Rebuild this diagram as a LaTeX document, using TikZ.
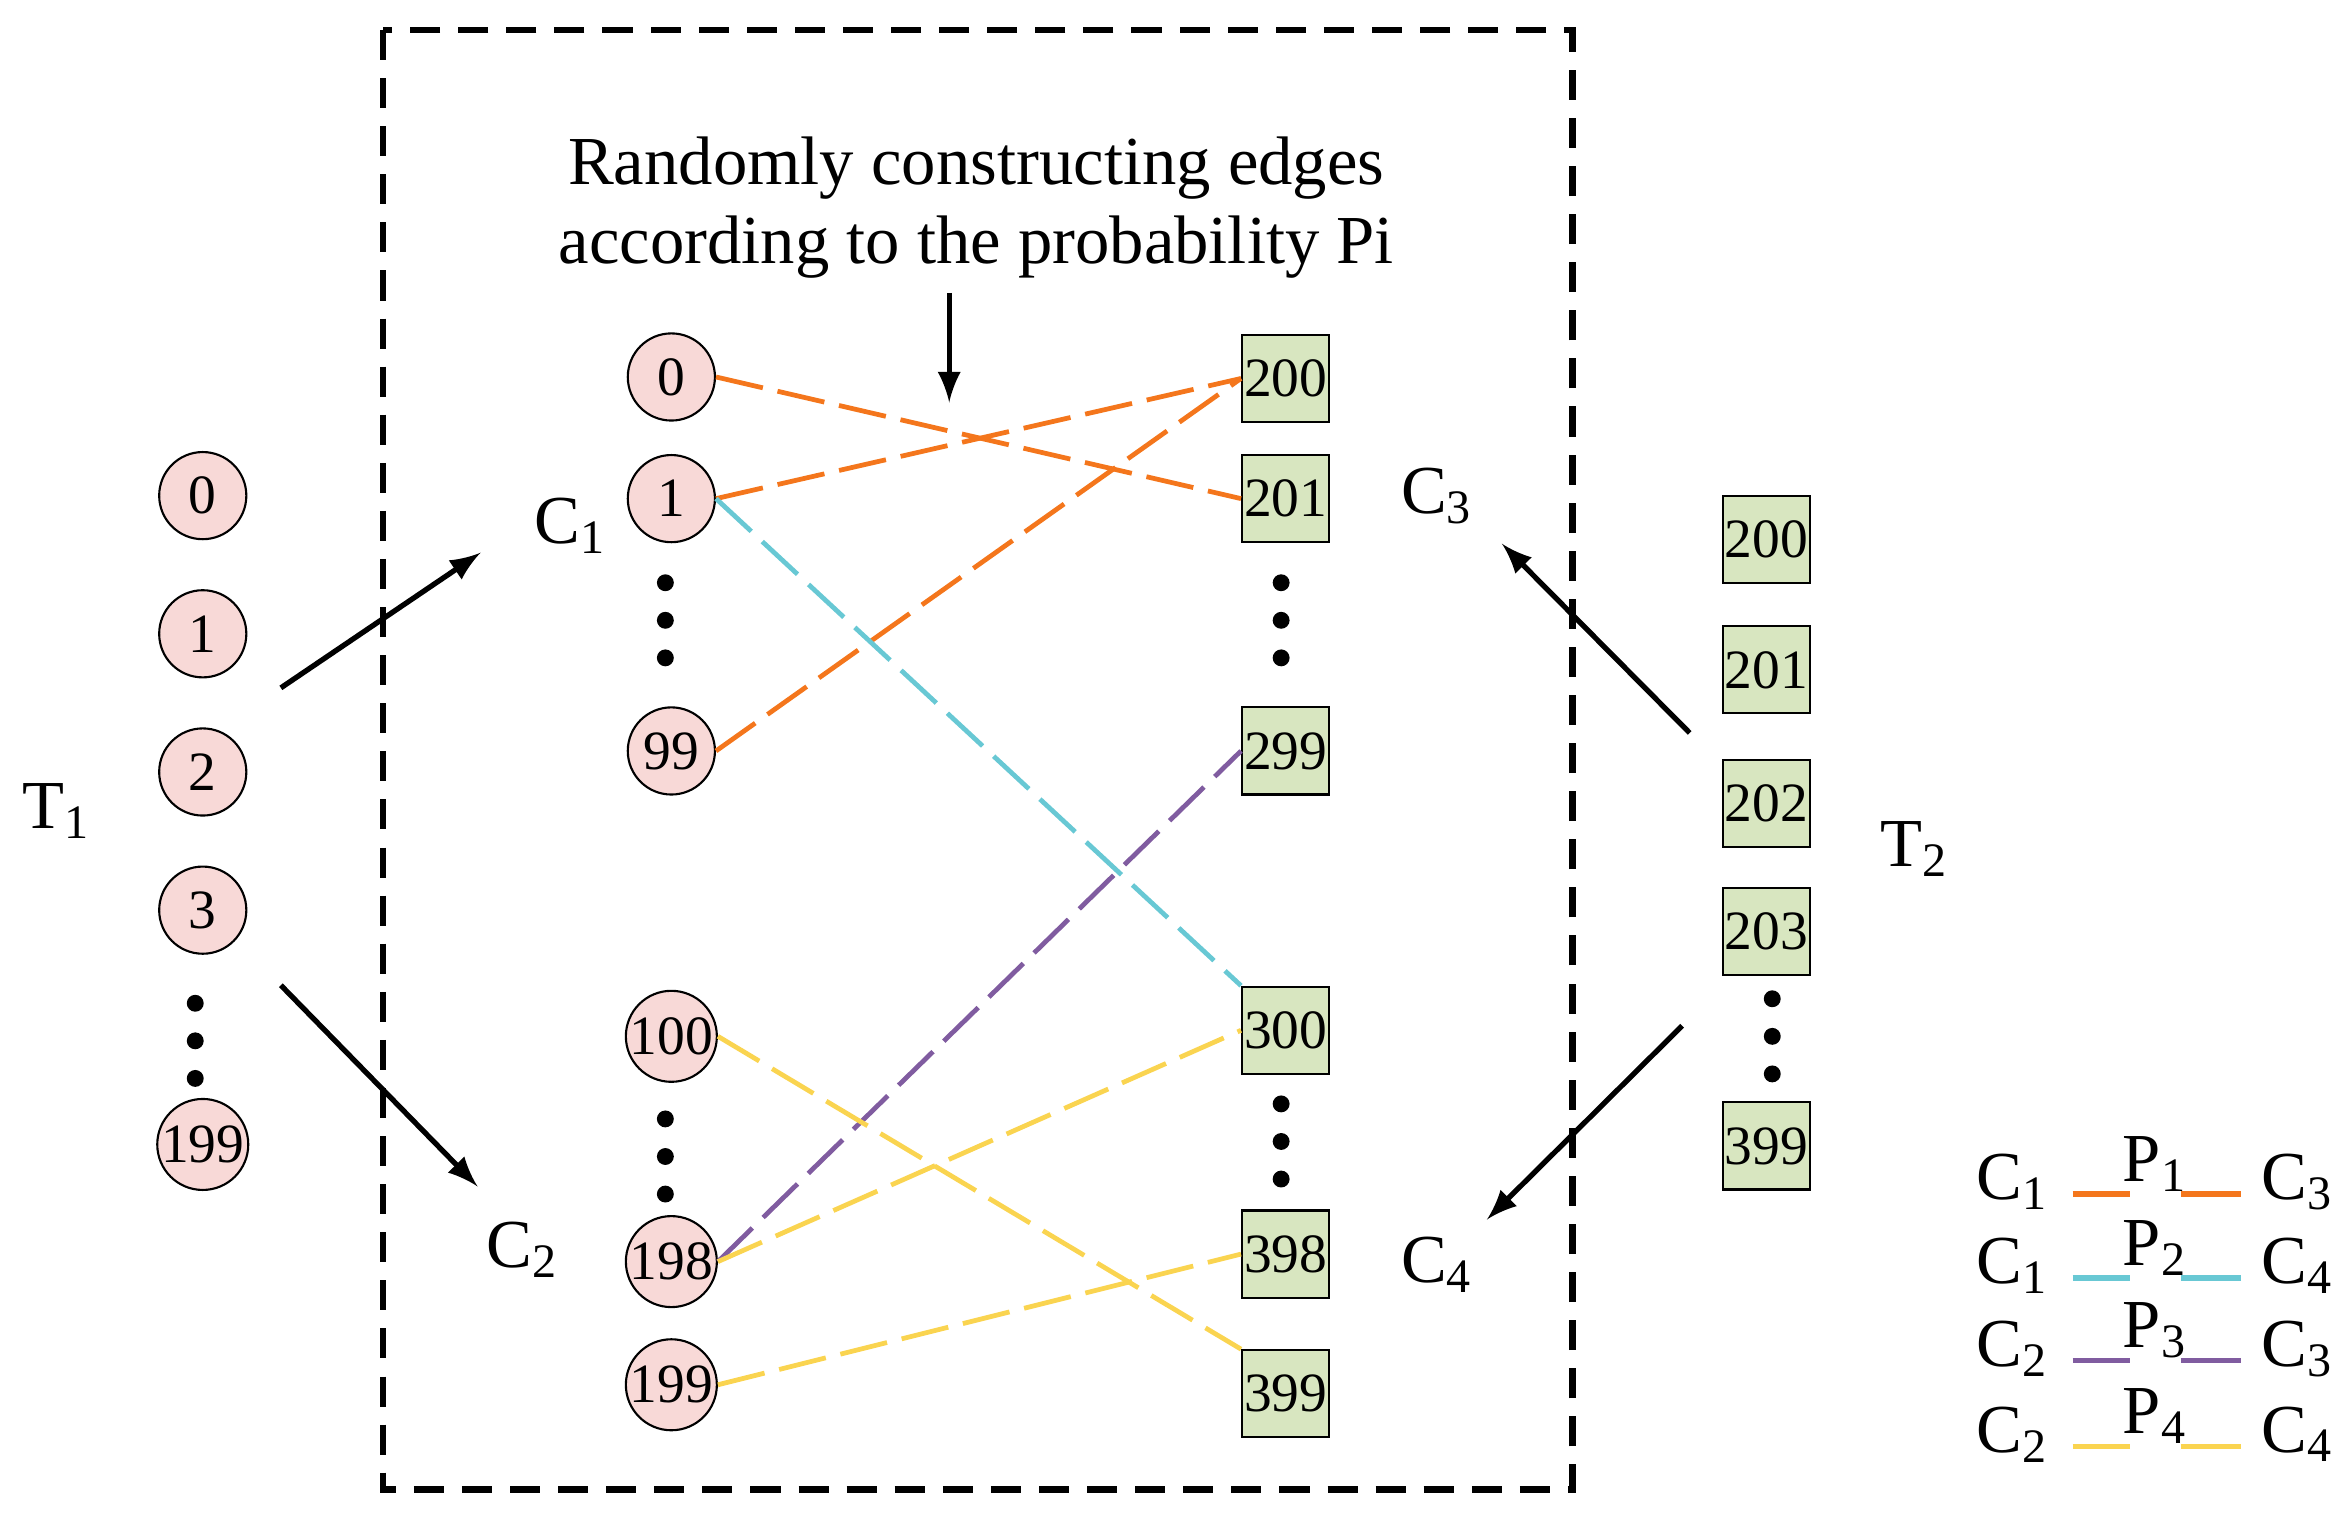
\documentclass[tikz,border=0pt]{standalone}
\usepackage{fontspec}
\setmainfont{Liberation Serif}
\usetikzlibrary{positioning}
\definecolor{cpink}{RGB}{248,217,215}
\definecolor{cgreen}{RGB}{216,230,192}
\definecolor{corange}{RGB}{244,118,28}
\definecolor{ccyan}{RGB}{104,200,212}
\definecolor{cpurple}{RGB}{128,92,160}
\definecolor{cyellow}{RGB}{250,212,80}
\begin{document}
\begin{tikzpicture}[x=0.01cm,y=-0.01cm,
  vc/.style={circle,draw,fill=cpink,minimum size=0.58cm,inner sep=0pt,font=\fontsize{10.5}{12}\selectfont},
  vs/.style={rectangle,draw,fill=cgreen,minimum size=0.58cm,inner sep=0pt,font=\fontsize{10.5}{12}\selectfont},
  lab/.style={font=\fontsize{13}{15}\selectfont},
  edge/.style={line width=0.9pt,dash pattern=on 0.32cm off 0.1cm},
  vdots/.style={line width=3.2pt,line cap=round,dash pattern=on 0pt off 0.25cm}]

   \useasboundingbox (0,0) rectangle (1560,1013);

   % Dashed frame
   \draw[line width=1.3pt,dash pattern=on 0.2cm off 0.12cm] (255,20) rectangle (1047,992);

   % Left column T1
   \foreach \n/\y in {0/330,1/422,2/514,3/606,199/762}
       \node[vc] (l\n) at (135,\y) {\n};
   \draw[vdots] (130,668) -- (130,720);
   \node[lab] (t1) at (38,540) {T\textsubscript{1}};

   % Right column T2
   \foreach \n/\y in {200/359,201/446,202/535,203/620,399/763}
       \node[vs] (r\n) at (1176,\y) {\n};
   \draw[vdots] (1180,665) -- (1180,718);
   \node[lab] (t2) at (1275,565) {T\textsubscript{2}};

   % Middle circles
   \foreach \n/\y in {0/251,1/332,99/500,100/690,198/840,199/922}
       \node[vc] (a\n) at (447,\y) {\n};
   \draw[vdots] (443,388) -- (443,440);
   \draw[vdots] (443,745) -- (443,797);

   % Middle squares
   \foreach \n/\y in {200/252,201/332,299/500,300/686,398/835,399/928}
       \node[vs] (b\n) at (856,\y) {\n};
   \draw[vdots] (853,388) -- (853,440);
   \draw[vdots] (853,735) -- (853,787);

   % Class labels
   \node[lab] (c1) at (380,350) {C\textsubscript{1}};
   \node[lab] (c2) at (348,832) {C\textsubscript{2}};
   \node[lab] (c3) at (957,330) {C\textsubscript{3}};
   \node[lab] (c4) at (957,842) {C\textsubscript{4}};

   \coordinate (p1) at (187,458);
   \coordinate (p2) at (187,656);
   \coordinate (p3) at (1125,488);
   \coordinate (p4) at (1120,683);
   \coordinate (q1) at (320,368);
   \coordinate (q2) at (318,790);
   \coordinate (q3) at (1000,362);
   \coordinate (q4) at (990,812);
   \draw[-latex,line width=1pt] (p1) -- (q1);
   \draw[-latex,line width=1pt] (p2) -- (q2);
   \draw[-latex,line width=1pt] (p3) -- (q3);
   \draw[-latex,line width=1pt] (p4) -- (q4);

   % Title
   \node[lab,align=center] (title) at (650,138) {Randomly constructing edges\\according to the probability Pi};
   \coordinate (tip) at (632,268);
   \draw[-latex,line width=1pt] (632,195) -- (tip);

   % Edges
   \draw[edge,corange] (a0.east) -- (b201.west);
   \draw[edge,corange] (a1.east) -- (b200.west);
   \draw[edge,corange] (a99.east) -- (b200.west);
   \draw[edge,ccyan] (a1.east) -- (b300.north west);
   \draw[edge,cpurple] (a198.east) -- (b299.west);
   \draw[edge,cyellow] (a100.east) -- (b399.north west);
   \draw[edge,cyellow] (a198.east) -- (b300.west);
   \draw[edge,cyellow] (a199.east) -- (b398.west);

   % Legend
   \foreach \i/\a/\b/\c/\y in {1/1/3/corange/787,2/1/4/ccyan/843,3/2/3/cpurple/898,4/2/4/cyellow/955}{
       \node[lab] (ga\i) at (1340,\y) {C\textsubscript{\a}};
       \node[lab] (gb\i) at (1530,\y) {C\textsubscript{\b}};
       \node[lab] (gp\i) at (1435,\y-12) {P\textsubscript{\i}};
       \draw[\c,line width=1pt] (1380,\y+8) -- (1418,\y+8);
       \draw[\c,line width=1pt] (1452,\y+8) -- (1492,\y+8);
   }

\end{tikzpicture}
\end{document}
